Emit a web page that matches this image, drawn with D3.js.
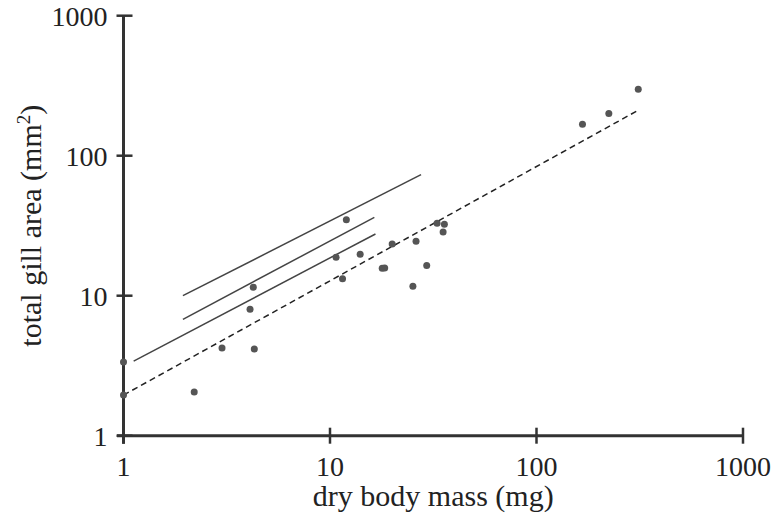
<!DOCTYPE html>
<html>
<head>
<meta charset="utf-8">
<script src="https://cdn.jsdelivr.net/npm/d3@7"></script>
<style>
  html, body { margin: 0; padding: 0; background: #fff; }
  svg { display: block; }
  text { font-family: "Liberation Serif", "Times New Roman", serif; fill: #222; }
</style>
</head>
<body>
<svg id="chart" width="771" height="522"></svg>
<script>
// ---- data ----
const massValues = [1, 1, 2.2, 3.0, 4.3, 4.1, 4.25, 12.0, 10.7, 14.0, 11.5, 17.9, 18.4, 20.0, 25.2, 26.1, 29.4, 33.0, 35.8, 35.3, 167, 224, 311];
const gillValues = [1.95, 3.36, 2.05, 4.23, 4.16, 8.0, 11.5, 34.9, 18.8, 19.8, 13.2, 15.7, 15.8, 23.4, 11.7, 24.5, 16.4, 32.9, 32.4, 28.5, 168, 200, 298];

// fitted lines: start and end points
const solidLineStartX = [1.94, 1.94, 1.12];
const solidLineStartY = [10.0, 6.78, 3.41];
const solidLineEndX = [27.6, 16.4, 16.6];
const solidLineEndY = [73.2, 36.3, 27.6];
const dashedLineX = [1, 307];
const dashedLineY = [1.95, 209];

const xTicks = [1, 10, 100, 1000];
const yTicks = [1, 10, 100, 1000];
const xTitle = "dry body mass (mg)";

// ---- layout ----
const svg = d3.select("#chart");
const x = d3.scaleLog().domain([1, 1000]).range([123.5, 743]);
const y = d3.scaleLog().domain([1, 1000]).range([435.7, 15.7]);

const axisColor = "#333";

// x axis
const gx = svg.append("g").attr("transform", `translate(0,${y(1)})`);
gx.append("line").attr("x1", 117).attr("x2", x(1000)).attr("y1", 0).attr("y2", 0)
  .attr("stroke", axisColor).attr("stroke-width", 3);
gx.selectAll("line.tick").data(xTicks).join("line").attr("class", "tick")
  .attr("x1", d => x(d)).attr("x2", d => x(d)).attr("y1", -8).attr("y2", 8)
  .attr("stroke", axisColor).attr("stroke-width", 2.5);
gx.selectAll("text").data(xTicks).join("text")
  .attr("x", d => x(d)).attr("y", 40).attr("text-anchor", "middle")
  .attr("font-size", 28).text(d => d);

// y axis
const gy = svg.append("g").attr("transform", `translate(${x(1)},0)`);
gy.append("line").attr("x1", 0).attr("x2", 0).attr("y1", y(1000)).attr("y2", y(1) + 8)
  .attr("stroke", axisColor).attr("stroke-width", 3);
gy.selectAll("line.tick").data(yTicks).join("line").attr("class", "tick")
  .attr("y1", d => y(d)).attr("y2", d => y(d)).attr("x1", -7).attr("x2", 9)
  .attr("stroke", axisColor).attr("stroke-width", 2.5);
gy.selectAll("text").data(yTicks).join("text")
  .attr("x", -16).attr("y", d => y(d)).attr("dy", "0.35em").attr("text-anchor", "end")
  .attr("font-size", 28).text(d => d);

// axis titles
svg.append("text").attr("x", (x(1) + x(1000)) / 2).attr("y", 506)
  .attr("text-anchor", "middle").attr("font-size", 30).text(xTitle);

const yt = svg.append("text")
  .attr("transform", `translate(41,${(y(1) + y(1000)) / 2}) rotate(-90)`)
  .attr("text-anchor", "middle").attr("font-size", 30);
yt.append("tspan").text("total gill area (mm");
yt.append("tspan").attr("font-size", 19).attr("dy", -11).text("2");
yt.append("tspan").attr("dy", 11).text(")");

// solid lines
const solid = solidLineStartX.map((d, i) => ({x0: d, y0: solidLineStartY[i], x1: solidLineEndX[i], y1: solidLineEndY[i]}));
svg.append("g").selectAll("line").data(solid).join("line")
  .attr("x1", d => x(d.x0)).attr("y1", d => y(d.y0))
  .attr("x2", d => x(d.x1)).attr("y2", d => y(d.y1))
  .attr("stroke", "#444").attr("stroke-width", 1.5);

// dashed line
svg.append("line")
  .attr("x1", x(dashedLineX[0])).attr("y1", y(dashedLineY[0]))
  .attr("x2", x(dashedLineX[1])).attr("y2", y(dashedLineY[1]))
  .attr("stroke", "#222").attr("stroke-width", 1.5).attr("stroke-dasharray", "6,4");

// points
const pts = massValues.map((m, i) => ({m, g: gillValues[i]}));
svg.append("g").selectAll("circle").data(pts).join("circle")
  .attr("cx", d => x(d.m)).attr("cy", d => y(d.g)).attr("r", 3.5)
  .attr("fill", "#555");
</script>
</body>
</html>
